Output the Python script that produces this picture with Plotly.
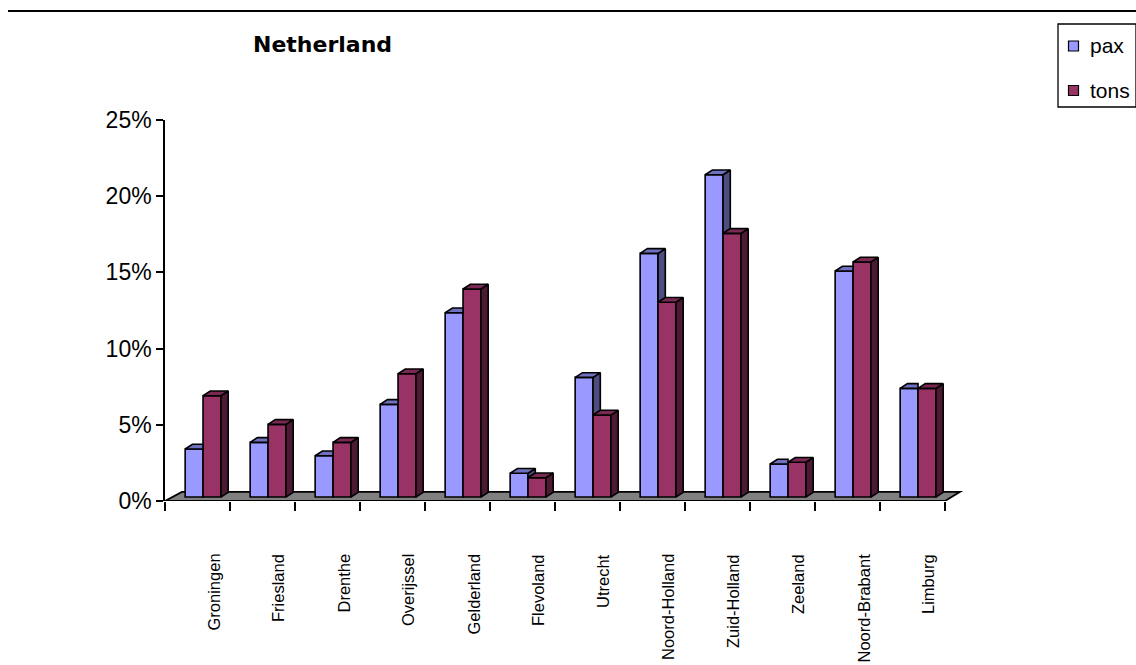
import plotly.graph_objects as go

# ---------------- data ----------------
categories = ["Groningen", "Friesland", "Drenthe", "Overijssel", "Gelderland", "Flevoland",
              "Utrecht", "Noord-Holland", "Zuid-Holland", "Zeeland", "Noord-Brabant", "Limburg"]
pax = [3.15, 3.59, 2.71, 6.08, 12.09, 1.56, 7.85, 15.99, 21.15, 2.17, 14.83, 7.13]
tons = [6.65, 4.77, 3.59, 8.09, 13.65, 1.27, 5.38, 12.78, 17.30, 2.28, 15.42, 7.13]
series_names = ["pax", "tons"]
y_tick_values = [0, 5, 10, 15, 20, 25]
y_tick_labels = ["0%", "5%", "10%", "15%", "20%", "25%"]
chart_title = "Netherland"

# ---------------- styling / geometry ----------------
W, H = 1136, 665
L, R, T, B = 165, 975, 120, 501          # plot area in pixels
CAT_PX = 65                              # pixels per category
x_range = [-0.5, -0.5 + (R - L) / CAT_PX]
y_range = [0, 25]

BASE = 0.26          # bars sit slightly behind the front edge of the floor
BAR_W = 0.275
PAX_OFF = -0.19
TONS_OFF = PAX_OFF + BAR_W
DX, DY = 0.112, 0.31  # 3-D depth of the bars
FDX, FDY = 0.26, 0.60 # depth of the floor

PAX_FRONT, PAX_SIDE, PAX_TOP = "#9999FF", "#4D4D80", "#7070C0"
TONS_FRONT, TONS_SIDE, TONS_TOP = "#993366", "#4D1A33", "#7A2952"
EDGE = "black"
LW = 1.6
FONT = "Liberation Sans, Arial, sans-serif"


def px_x(px):
    return (px - L) / (R - L)


def px_y(py):
    return (B - py) / (B - T)


n = len(categories)
idx = list(range(n))

fig = go.Figure()

# front faces as real bars
fig.add_trace(go.Bar(x=idx, y=pax, base=BASE, width=BAR_W, offset=PAX_OFF, name=series_names[0],
                     marker=dict(color=PAX_FRONT, line=dict(color=EDGE, width=LW)),
                     showlegend=False, hoverinfo="skip"))
fig.add_trace(go.Bar(x=idx, y=tons, base=BASE, width=BAR_W, offset=TONS_OFF, name=series_names[1],
                     marker=dict(color=TONS_FRONT, line=dict(color=EDGE, width=LW)),
                     showlegend=False, hoverinfo="skip"))

# 3-D side / top faces
pax_side_x, pax_side_y, pax_top_x, pax_top_y = [], [], [], []
tons_side_x, tons_side_y, tons_top_x, tons_top_y = [], [], [], []
for i in idx:
    p_top = BASE + pax[i]
    t_top = BASE + tons[i]
    xl = i + PAX_OFF
    xr = xl + BAR_W
    xr2 = xr + BAR_W
    if p_top > t_top:
        pax_side_x += [xr, xr + DX, xr + DX, xr, xr, None]
        pax_side_y += [t_top, t_top + DY, p_top + DY, p_top, t_top, None]
        pax_top_x += [xl, xl + DX, xr + DX, xr, xl, None]
        pax_top_y += [p_top, p_top + DY, p_top + DY, p_top, p_top, None]
    else:
        pax_top_x += [xl, xl + DX, xr, xr, xl, None]
        pax_top_y += [p_top, p_top + DY, p_top + DY, p_top, p_top, None]
    tons_side_x += [xr2, xr2 + DX, xr2 + DX, xr2, xr2, None]
    tons_side_y += [BASE, BASE + DY, t_top + DY, t_top, BASE, None]
    tons_top_x += [xr, xr + DX, xr2 + DX, xr2, xr, None]
    tons_top_y += [t_top, t_top + DY, t_top + DY, t_top, t_top, None]

for xs, ys, col in [(pax_side_x, pax_side_y, PAX_SIDE), (pax_top_x, pax_top_y, PAX_TOP),
                    (tons_side_x, tons_side_y, TONS_SIDE), (tons_top_x, tons_top_y, TONS_TOP)]:
    fig.add_trace(go.Scatter(x=xs, y=ys, mode="lines", fill="toself", fillcolor=col,
                             line=dict(color=EDGE, width=LW), showlegend=False,
                             hoverinfo="skip"))

shapes = []
# floor
shapes.append(dict(type="path", xref="x", yref="y", layer="below",
                   path=f"M -0.5,0 L {n - 0.5},0 L {n - 0.5 + FDX - 0.03},{FDY} L {-0.5 + FDX},{FDY} Z",
                   fillcolor="#808080", line=dict(color=EDGE, width=1.8)))
# top rule
shapes.append(dict(type="line", xref="paper", yref="paper", x0=px_x(8), x1=px_x(1136),
                   y0=px_y(11), y1=px_y(11), line=dict(color=EDGE, width=2)))
# legend box and swatches
shapes.append(dict(type="rect", xref="paper", yref="paper", x0=px_x(1058), x1=px_x(1136),
                   y0=px_y(24), y1=px_y(107), line=dict(color=EDGE, width=1.3), fillcolor="white"))
for cy, col in [(46, PAX_FRONT), (90.5, TONS_FRONT)]:
    shapes.append(dict(type="rect", xref="paper", yref="paper", x0=px_x(1068.5), x1=px_x(1078.5),
                       y0=px_y(cy - 5), y1=px_y(cy + 5), line=dict(color=EDGE, width=1.2),
                       fillcolor=col))

annotations = []
for cy, name in [(46, series_names[0]), (90.5, series_names[1])]:
    annotations.append(dict(xref="paper", yref="paper", x=px_x(1088), y=px_y(cy), text=name,
                            showarrow=False, xanchor="left", yanchor="middle",
                            font=dict(family=FONT, size=21, color="black")))
annotations.append(dict(xref="paper", yref="paper", x=px_x(322), y=px_y(45), text=f"<b>{chart_title}</b>",
                        showarrow=False, xanchor="center", yanchor="middle",
                        font=dict(family="DejaVu Sans, sans-serif", size=22, color="black")))
for i, c in enumerate(categories):
    annotations.append(dict(xref="x", yref="y", x=i, y=0, text=c, textangle=-90, showarrow=False,
                            xanchor="center", yanchor="top", xshift=15.5, yshift=-51,
                            font=dict(family=FONT, size=16.5, color="black")))

fig.update_layout(
    width=W, height=H,
    margin=dict(l=L, r=W - R, t=T, b=H - B, pad=0),
    paper_bgcolor="white", plot_bgcolor="white",
    barmode="overlay", showlegend=False,
    shapes=shapes, annotations=annotations,
    xaxis=dict(range=x_range, tickmode="array", tickvals=[k - 0.5 for k in range(n + 1)],
               showticklabels=False, ticks="outside", ticklen=9, tickwidth=1.5, tickcolor=EDGE,
               showline=False, showgrid=False, zeroline=False, fixedrange=True),
    yaxis=dict(range=y_range, tickmode="array", tickvals=y_tick_values, ticktext=y_tick_labels,
               ticks="outside", ticklen=7, tickwidth=1.5, tickcolor=EDGE,
               showline=True, linecolor=EDGE, linewidth=1.5, showgrid=False, zeroline=False,
               tickfont=dict(family=FONT, size=23, color="black"), fixedrange=True),
)

fig.write_html("out.html")
